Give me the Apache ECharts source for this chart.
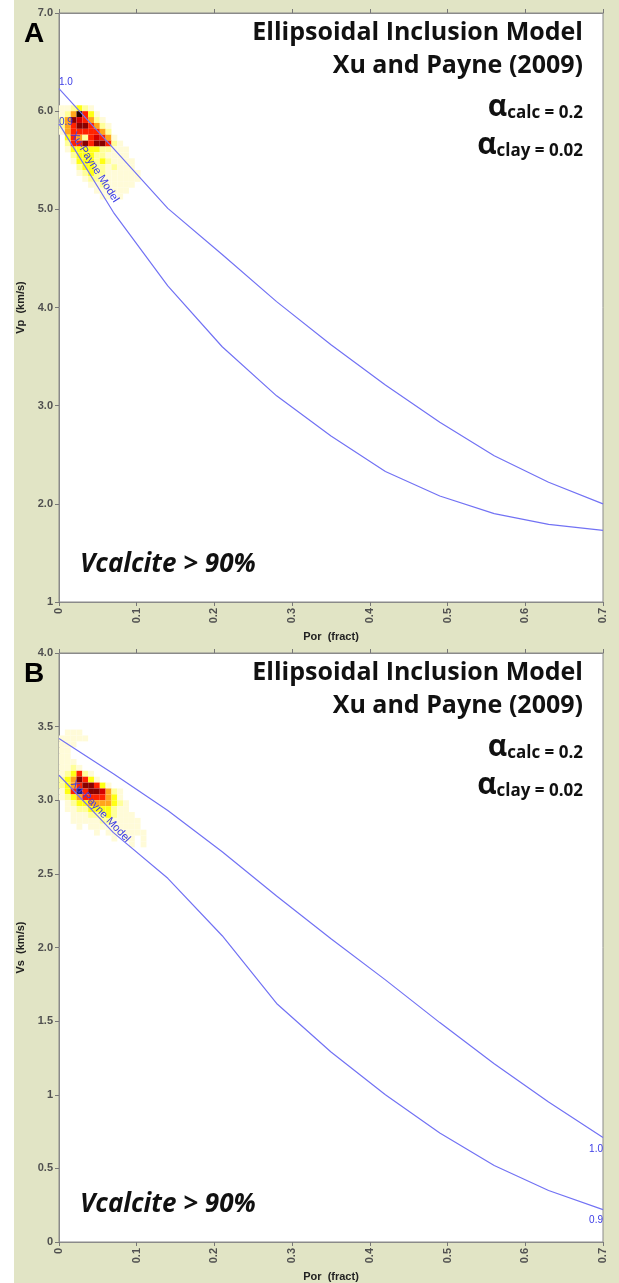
<!DOCTYPE html>
<html>
<head>
<meta charset="utf-8">
<script src="https://cdn.jsdelivr.net/npm/echarts@6/dist/echarts.min.js"></script>
<style>
  html, body { margin: 0; padding: 0; background: #fff; }
  #chart { width: 619px; height: 1283px; }
</style>
</head>
<body>
<div id="chart"></div>
<script>
// porosity samples of the Xu-Payne model curves
var porSteps = [0, 0.07, 0.14, 0.21, 0.28, 0.35, 0.42, 0.49, 0.56, 0.63, 0.70];
var vpAspect10 = [6.23, 5.62, 5.01, 4.54, 4.06, 3.62, 3.21, 2.83, 2.49, 2.22, 2.00];
var vpAspect09 = [5.87, 4.97, 4.22, 3.60, 3.10, 2.69, 2.33, 2.08, 1.90, 1.79, 1.73];
var vsAspect10 = [3.42, 3.18, 2.93, 2.65, 2.35, 2.06, 1.78, 1.49, 1.21, 0.95, 0.71];
var vsAspect09 = [3.17, 2.78, 2.47, 2.08, 1.62, 1.29, 1.00, 0.74, 0.52, 0.35, 0.22];

// tick labels as printed on the plot
var porTicks = ['0', '0.1', '0.2', '0.3', '0.4', '0.5', '0.6', '0.7'];
var vpTicks = ['1', '2.0', '3.0', '4.0', '5.0', '6.0', '7.0'];
var vsTicks = ['0', '0.5', '1', '1.5', '2.0', '2.5', '3.0', '3.5', '4.0'];

// crossplot density, one row per bin from the top, one number per porosity bin
// 0 = empty, 1 = pale ... 8 = black, 9 = navy
var vpDensity = [
  [1, 1, 2, 3, 2, 1],
  [1, 2, 4, 8, 5, 3, 1],
  [2, 4, 7, 6, 5, 4, 2, 1],
  [2, 4, 5, 7, 7, 5, 4, 2, 1],
  [1, 4, 5, 5, 5, 5, 5, 4, 2],
  [0, 3, 5, 4, 2, 5, 6, 5, 4, 1],
  [0, 2, 5, 5, 7, 5, 7, 7, 5, 2, 1],
  [0, 1, 3, 3, 3, 3, 3, 2, 2, 1, 1, 1],
  [0, 0, 2, 3, 3, 3, 2, 2, 1, 1, 1, 1],
  [0, 0, 1, 3, 3, 3, 2, 3, 2, 1, 1, 1, 1],
  [0, 0, 0, 2, 3, 3, 2, 2, 1, 2, 1, 1, 1],
  [0, 0, 0, 1, 2, 3, 2, 2, 1, 1, 1, 1, 1, 1],
  [0, 0, 0, 0, 1, 2, 2, 1, 1, 1, 1, 1, 1, 1],
  [0, 0, 0, 0, 0, 1, 1, 2, 1, 1, 1, 1, 1],
  [0, 0, 0, 0, 0, 0, 1, 1, 1, 1, 1, 1],
  [0, 0, 0, 0, 0, 0, 0, 1, 1, 0, 1]
];
var vsDensity = [
  [0, 1, 1, 1],
  [1, 1, 1, 1, 1],
  [1, 1, 1],
  [1, 1],
  [1, 1],
  [1, 1, 1],
  [1, 1, 2, 1],
  [1, 2, 3, 5, 2, 1],
  [2, 3, 4, 7, 5, 3, 1],
  [2, 3, 4, 5, 7, 7, 5, 3, 1],
  [1, 3, 5, 9, 5, 7, 7, 6, 4, 2, 1],
  [1, 2, 3, 4, 5, 5, 5, 5, 4, 3, 1],
  [0, 1, 2, 3, 3, 4, 4, 4, 4, 3, 2, 1],
  [0, 1, 1, 2, 2, 3, 3, 3, 3, 2, 1, 1],
  [0, 0, 1, 1, 1, 2, 2, 2, 3, 2, 1, 1, 1],
  [0, 0, 1, 1, 1, 1, 1, 2, 2, 1, 1, 1, 1, 1],
  [0, 0, 0, 1, 0, 1, 1, 1, 1, 1, 1, 1, 1, 1],
  [0, 0, 0, 0, 0, 0, 1, 0, 1, 1, 1, 1, 1, 1, 1],
  [0, 0, 0, 0, 0, 0, 0, 0, 0, 1, 0, 1, 1, 0, 1],
  [0, 0, 0, 0, 0, 0, 0, 0, 0, 0, 0, 0, 1, 0, 1]
];
var densityColors = ['#fffbd8', '#ffff9a', '#ffff14', '#ffa51c', '#ff2200', '#d40000', '#880000', '#260000', '#1e1e7a'];

var porBin = 0.0075;
var vpBin = 0.06, vpTop = 6.06;
var vsBin = 0.04, vsTop = 3.48;

var curveColor = '#7272f4';
var labelBlue = '#3c3ce6';
var khaki = '#e1e4c5';

function toCells(rows, topY, binH) {
  var out = [];
  rows.forEach(function (row, j) {
    row.forEach(function (lvl, i) {
      if (lvl > 0) out.push([i * porBin, topY - (j + 1) * binH, lvl, binH]);
    });
  });
  return out;
}

function renderCell(params, api) {
  var x0 = api.value(0), y0 = api.value(1), h = api.value(3);
  var a = api.coord([x0, y0 + h]);
  var b = api.coord([x0 + porBin, y0]);
  return {
    type: 'rect',
    shape: { x: a[0], y: a[1], width: b[0] - a[0], height: b[1] - a[1] },
    style: { fill: densityColors[api.value(2) - 1] }
  };
}

function pairs(ys) {
  return porSteps.map(function (x, i) { return [x, ys[i]]; });
}

function tickFmt(list, min, step) {
  return function (v) { return list[Math.round((v - min) / step)]; };
}

var axisColor = '#8a8a8a';
var tickLabel = { color: '#505050', fontSize: 11, fontWeight: 'bold', fontFamily: 'Liberation Sans' };
var nameStyle = { color: '#222', fontSize: 11, fontWeight: 'bold', fontFamily: 'Liberation Sans' };

function bottomAxis(g) {
  return {
    gridIndex: g, type: 'value', min: 0, max: 0.7, interval: 0.1, position: 'bottom',
    axisLine: { show: true, onZero: false, lineStyle: { color: axisColor } },
    axisTick: { show: true, length: 4, lineStyle: { color: '#777' } },
    splitLine: { show: false },
    axisLabel: Object.assign({ rotate: 90, margin: 6, formatter: tickFmt(porTicks, 0, 0.1) }, tickLabel),
    name: 'Por  (fract)', nameLocation: 'middle', nameGap: 29, nameTextStyle: nameStyle
  };
}
function topAxis(g) {
  return {
    gridIndex: g, type: 'value', min: 0, max: 0.7, interval: 0.1, position: 'top',
    axisLine: { show: true, onZero: false, lineStyle: { color: axisColor } },
    axisTick: { show: true, length: 4, lineStyle: { color: '#777' } },
    splitLine: { show: false }, axisLabel: { show: false }
  };
}
function leftAxis(g, min, max, step, ticks, name) {
  return {
    gridIndex: g, type: 'value', min: min, max: max, interval: step,
    axisLine: { show: true, onZero: false, lineStyle: { color: axisColor } },
    axisTick: { show: true, length: 4, lineStyle: { color: '#777' } },
    splitLine: { show: false },
    axisLabel: Object.assign({ margin: 6, formatter: tickFmt(ticks, min, step) }, tickLabel),
    name: name, nameLocation: 'middle', nameGap: 33, nameTextStyle: nameStyle
  };
}

function tag(coord, text, pos, offset, rotate, size) {
  return {
    coord: coord,
    label: {
      show: true, formatter: text, position: pos, distance: 0, offset: offset || [0, 0],
      rotate: rotate || 0, color: labelBlue, fontSize: size || 10, fontFamily: 'Liberation Sans'
    }
  };
}

function curve(x, y, ys, marks) {
  return {
    type: 'line', xAxisIndex: x, yAxisIndex: y, data: pairs(ys),
    symbol: 'none', smooth: false, silent: true, z: 5,
    lineStyle: { color: curveColor, width: 1.2 },
    markPoint: { symbol: 'circle', symbolSize: 0, silent: true, data: marks }
  };
}

function alphaLine(y, sub) {
  var tf = '"Open Sans", sans-serif';
  return { type: 'text', x: 583, y: y, z: 100,
    style: {
      text: '{a|α}{s|' + sub + '}', textAlign: 'right', textVerticalAlign: 'middle',
      rich: {
        a: { font: 'bold 30px ' + tf, fill: '#111', verticalAlign: 'top', height: 34 },
        s: { font: 'bold 17px ' + tf, fill: '#111', verticalAlign: 'bottom', height: 22 }
      }
    } };
}

function panelText(top, letter) {
  var tf = '"Open Sans", sans-serif';
  return [
    { type: 'text', x: 24, y: top + 34, z: 100,
      style: { text: letter, font: 'bold 28px "Liberation Sans"', fill: '#000', textVerticalAlign: 'middle' } },
    { type: 'text', x: 583, y: top + 33, z: 100,
      style: { text: 'Ellipsoidal Inclusion Model', font: 'bold 25px ' + tf, fill: '#111', textAlign: 'right', textVerticalAlign: 'middle' } },
    { type: 'text', x: 583, y: top + 66, z: 100,
      style: { text: 'Xu and Payne (2009)', font: 'bold 25px ' + tf, fill: '#111', textAlign: 'right', textVerticalAlign: 'middle' } },
    alphaLine(top + 107, 'calc = 0.2'),
    alphaLine(top + 145, 'clay = 0.02'),
    { type: 'text', x: 80, y: top + 565, z: 100,
      style: { text: 'Vcalcite > 90%', font: 'italic bold 26px ' + tf, fill: '#111', textVerticalAlign: 'middle' } }
  ];
}

var chart = echarts.init(document.getElementById('chart'), null, { renderer: 'canvas' });

chart.setOption({
  animation: false,
  backgroundColor: khaki,
  grid: [
    { left: 59, top: 13, width: 544, height: 589, show: true, backgroundColor: '#fff', borderColor: axisColor, borderWidth: 1 },
    { left: 59, top: 653, width: 544, height: 589, show: true, backgroundColor: '#fff', borderColor: axisColor, borderWidth: 1 }
  ],
  xAxis: [bottomAxis(0), topAxis(0), bottomAxis(1), topAxis(1)],
  yAxis: [
    leftAxis(0, 1, 7, 1, vpTicks, 'Vp  (km/s)'),
    leftAxis(1, 0, 4, 0.5, vsTicks, 'Vs  (km/s)')
  ],
  graphic: [
    { type: 'rect', left: 0, top: 0, z: 1, shape: { width: 14, height: 1283 }, style: { fill: '#fff' } }
  ].concat(panelText(0, 'A'), panelText(640, 'B')),
  series: [
    { type: 'custom', xAxisIndex: 0, yAxisIndex: 0, renderItem: renderCell, clip: true, silent: true, z: 2,
      data: toCells(vpDensity, vpTop, vpBin) },
    { type: 'custom', xAxisIndex: 2, yAxisIndex: 1, renderItem: renderCell, clip: true, silent: true, z: 2,
      data: toCells(vsDensity, vsTop, vsBin) },
    curve(0, 0, vpAspect10, [tag([0, vpAspect10[0]], '1.0', 'right', [0, -6])]),
    curve(0, 0, vpAspect09, [
      tag([0, vpAspect09[0]], '0.9', 'right', [0, -2]),
      tag([0.0457, 5.43], 'Xu-Payne Model', 'inside', [0, 0], -57.6, 11)
    ]),
    curve(2, 1, vsAspect10, [tag([0.7, vsAspect10[10]], '1.0', 'left', [0, 12])]),
    curve(2, 1, vsAspect09, [
      tag([0.7, vsAspect09[10]], '0.9', 'left', [0, 11]),
      tag([0.0534, 2.925], 'Xu-Payne Model', 'inside', [0, 0], -46.5, 11)
    ])
  ]
});
</script>
</body>
</html>
